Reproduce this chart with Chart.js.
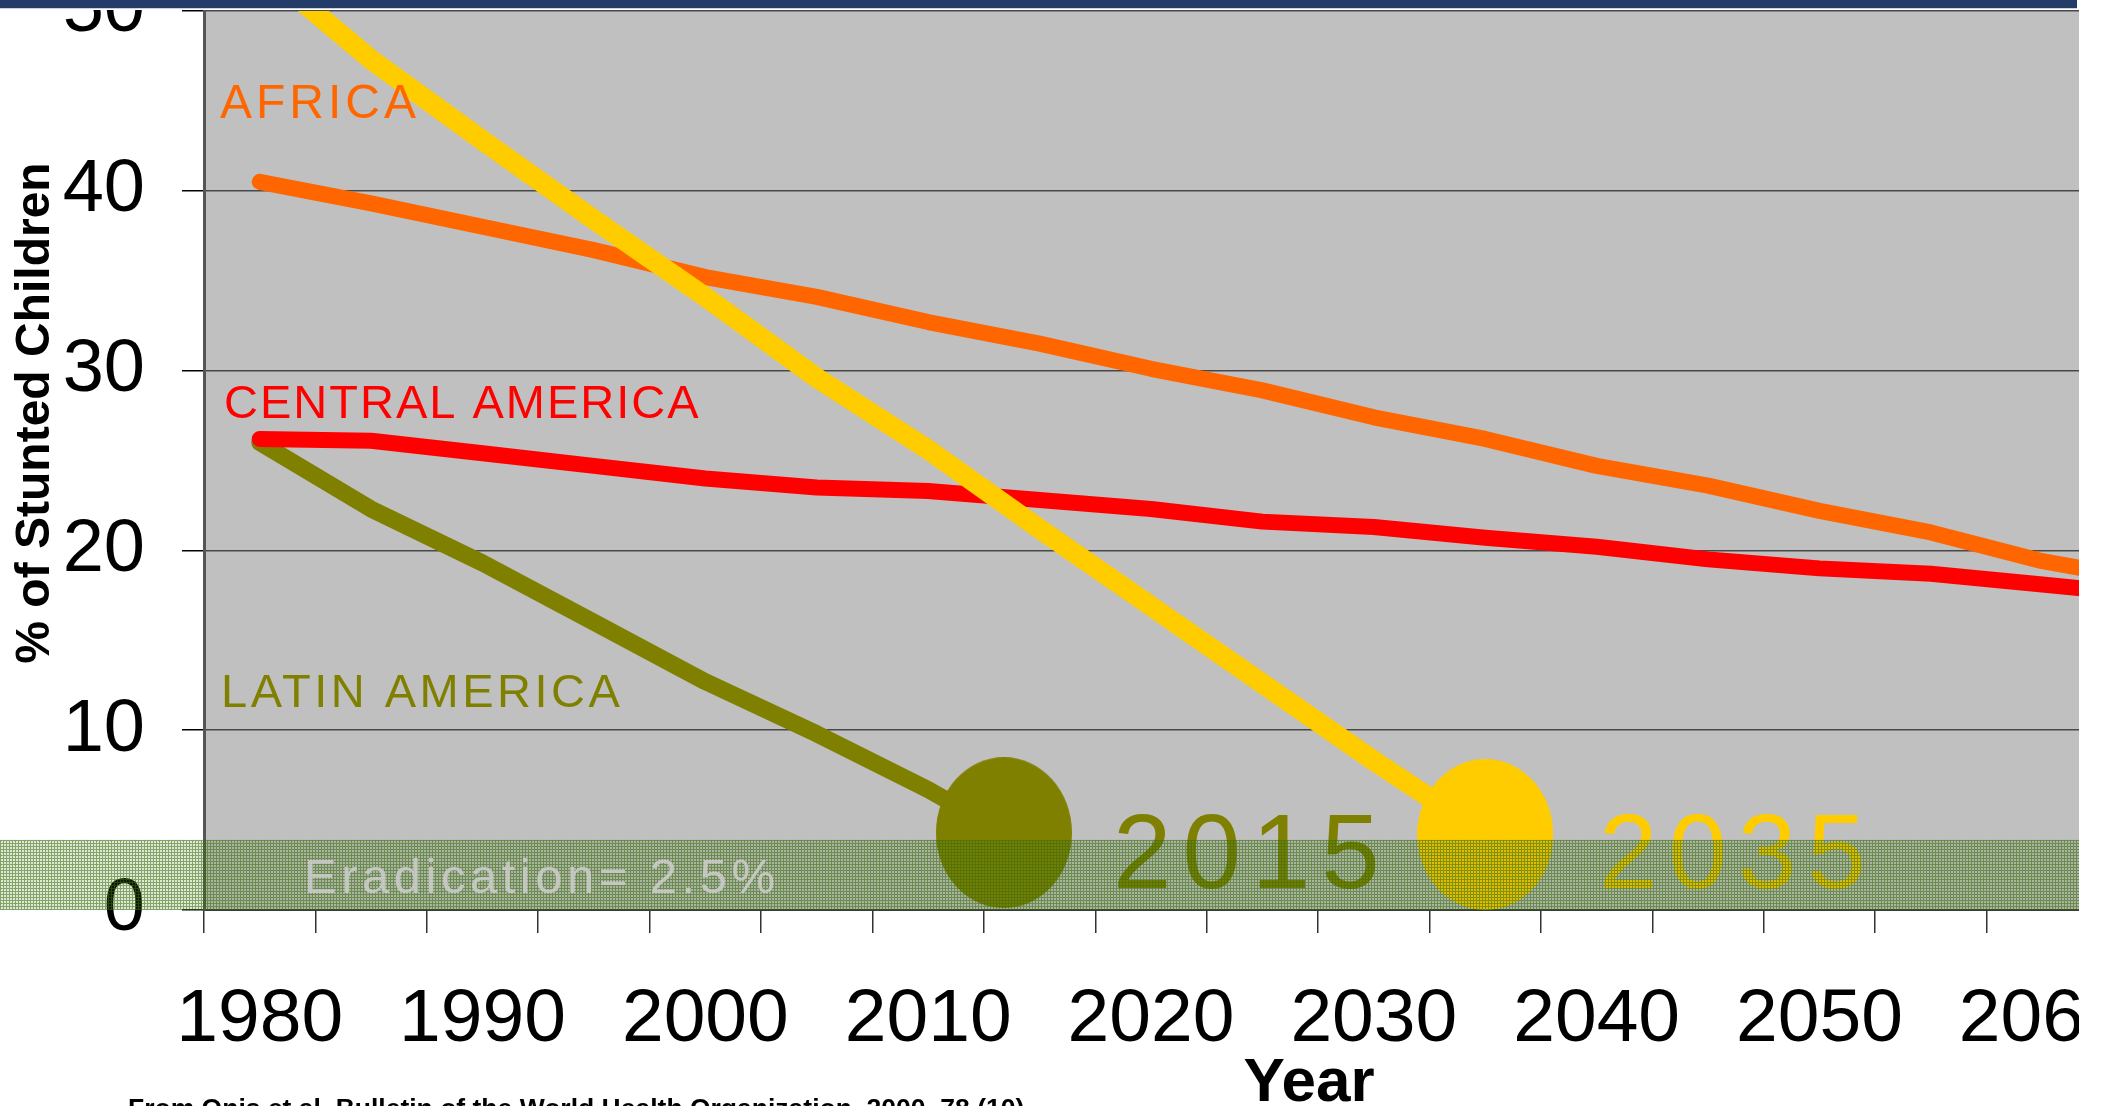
<!DOCTYPE html>
<html>
<head>
<meta charset="utf-8">
<title>Stunted children trends</title>
<script src="https://cdn.jsdelivr.net/npm/chart.js@4.4.1/dist/chart.umd.min.js"></script>
<style>
    html, body { margin: 0; padding: 0; background: #fff; overflow: hidden; }
    #wrap { position: relative; width: 2140px; height: 1106px; }
</style>
</head>
<body>
<div id="wrap"><canvas id="stuntChart" width="2140" height="1106"></canvas></div>
<script>
// x categories (5-year steps) and y ticks
const tickYears = [1980, 1985, 1990, 1995, 2000, 2005, 2010, 2015, 2020, 2025, 2030, 2035, 2040, 2045, 2050, 2055, 2060];
const yTicks = [0, 10, 20, 30, 40, 50];

// data years, the last one runs past the slide edge
const years = [1980, 1985, 1990, 1995, 2000, 2005, 2010, 2015, 2020, 2025, 2030, 2035, 2040, 2045, 2050, 2055, 2060, 2065];

// % of stunted children
const africa = [40.5, 39.3, 38.0, 36.7, 35.2, 34.1, 32.7, 31.5, 30.1, 28.9, 27.4, 26.2, 24.7, 23.6, 22.2, 21.0, 19.4, 18.3];
const centralAmerica = [26.2, 26.1, 25.4, 24.7, 24.0, 23.5, 23.3, 22.8, 22.3, 21.6, 21.3, 20.7, 20.2, 19.5, 19.0, 18.7, 18.1, 17.5];
const latinAmerica = [26.0, 22.3, 19.3, 16.0, 12.7, 9.8, 6.7];
const yellowTrend = [52.5, 47.3, 42.8, 38.4, 34.1, 29.6, 25.6, 21.2, 16.9, 12.6, 8.3];

// milestone markers (year reached, level)
const latinGoal = { year: 2013.4, value: 4.3, label: "2015" };
const yellowGoal = { year: 2035, value: 4.2, label: "2035" };
const eradicationTop = 3.9;

const FONT = "'Liberation Sans', Arial, sans-serif";
// plot box of the slide, the right part is cut off by the slide edge
const plotBox = { left: 204, top: 11, right: 2098, bottom: 910, cropX: 2079 };

function ellipseMarker(color) {
    const c = document.createElement("canvas");
    c.width = 136;
    c.height = 151;
    const g = c.getContext("2d");
    g.fillStyle = color;
    g.beginPath();
    g.ellipse(68, 75.5, 68, 75.5, 0, 0, Math.PI * 2);
    g.fill();
    return c;
}

function hatchPattern(ctx) {
    const c = document.createElement("canvas");
    c.width = 3;
    c.height = 3;
    const g = c.getContext("2d");
    g.fillStyle = "rgba(70,120,20,0.17)";
    g.fillRect(0, 0, 3, 3);
    g.fillStyle = "rgba(55,105,15,0.55)";
    g.fillRect(0, 0, 3, 1);
    g.fillRect(0, 1, 1, 2);
    return ctx.createPattern(c, "repeat");
}

function seriesPoints(values) {
    return values.map((v, i) => ({ x: years[i], y: v }));
}

function withGoal(values, goal) {
    return seriesPoints(values).concat([{ x: goal.year, y: goal.value }]);
}

function markerOptions(count, color) {
    const marker = ellipseMarker(color);
    return {
        pointRadius: ctx => ctx.dataIndex === count ? 70 : 0,
        pointStyle: ctx => ctx.dataIndex === count ? marker : "circle"
    };
}

function txt(ctx, text, x, y, font, color, spacing) {
    ctx.font = font;
    ctx.fillStyle = color;
    ctx.letterSpacing = (spacing || 0) + "px";
    ctx.fillText(text, x, y);
    ctx.letterSpacing = "0px";
}

// keep the plot exactly where it sits on the slide
const pinArea = {
    id: "pinArea",
    afterLayout(chart) {
        const b = plotBox;
        Object.assign(chart.chartArea, {
            left: b.left, top: b.top, right: b.right, bottom: b.bottom,
            width: b.right - b.left, height: b.bottom - b.top
        });
        Object.values(chart.scales).forEach(s => {
            if (s.isHorizontal()) {
                s.left = b.left;
                s.right = b.right;
                s.width = b.right - b.left;
                s.top = b.bottom;
                s.bottom = chart.height;
                s.height = chart.height - b.bottom;
            } else {
                s.left = 0;
                s.right = b.left;
                s.width = b.left;
                s.top = b.top;
                s.bottom = b.bottom;
                s.height = b.bottom - b.top;
            }
            s.configure();
        });
    }
};

const slideDecor = {
    id: "slideDecor",
    beforeDraw(chart) {
        const { ctx, chartArea: a } = chart;
        ctx.save();
        ctx.fillStyle = "#c0c0c0";
        ctx.fillRect(a.left, a.top, a.right - a.left, a.bottom - a.top);
        ctx.restore();
    },
    afterDatasetsDraw(chart) {
        const { ctx } = chart;
        const yScale = chart.scales.y;
        ctx.save();
        ctx.textAlign = "left";
        ctx.textBaseline = "alphabetic";
        txt(ctx, "AFRICA", 220, 118, "48px " + FONT, "#ff6600", 4);
        txt(ctx, "CENTRAL AMERICA", 224, 418, "47px " + FONT, "#ff0000", 2);
        txt(ctx, "LATIN AMERICA", 221, 707, "47px " + FONT, "#808000", 3.5);
        txt(ctx, latinGoal.label, 1113, 888, "105px " + FONT, "#808000", 11);
        txt(ctx, yellowGoal.label, 1599, 888, "105px " + FONT, "#ffcc00", 11);

        // eradication band across the whole slide
        const top = yScale.getPixelForValue(eradicationTop);
        const bottom = yScale.getPixelForValue(0);
        ctx.fillStyle = hatchPattern(ctx);
        ctx.fillRect(0, top, plotBox.cropX, bottom - top);

        txt(ctx, "Eradication= 2.5%", 304, 893, "49px " + FONT, "rgba(206,206,206,0.85)", 4.5);
        ctx.restore();
    },
    afterDraw(chart) {
        const { ctx } = chart;
        ctx.save();
        // slide crop and header bar
        ctx.fillStyle = "#ffffff";
        ctx.fillRect(plotBox.cropX, 0, chart.width - plotBox.cropX, chart.height);
        ctx.fillRect(0, 0, plotBox.cropX, 10);
        ctx.fillStyle = "#243c68";
        ctx.fillRect(0, 0, plotBox.cropX - 2, 8);
        ctx.fillStyle = "#c9d1de";
        ctx.fillRect(0, 8, plotBox.cropX - 2, 1);

        ctx.textAlign = "center";
        txt(ctx, "Year", 1309, 1101, "bold 62px " + FONT, "#000");

        ctx.save();
        ctx.translate(36, 413);
        ctx.rotate(-Math.PI / 2);
        ctx.textBaseline = "middle";
        txt(ctx, "% of Stunted Children", 0, 0, "bold 48px " + FONT, "#000");
        ctx.restore();

        ctx.textAlign = "left";
        ctx.textBaseline = "alphabetic";
        txt(ctx, "From Onis et al, Bulletin of the World Health Organization, 2000, 78 (10)", 128, 1117, "bold 26.5px " + FONT, "#000");
        ctx.restore();
    }
};

document.addEventListener("DOMContentLoaded", function () {
    const canvas = document.getElementById("stuntChart");

    const stuntChart = new Chart(canvas.getContext("2d"), {
        type: "line",
        data: {
            labels: tickYears.map(String),
            datasets: [
                Object.assign({
                    label: "",
                    data: withGoal(yellowTrend, yellowGoal),
                    borderColor: "#ffcc00",
                    backgroundColor: "#ffcc00",
                    borderWidth: 20
                }, markerOptions(yellowTrend.length, "#ffcc00")),
                {
                    label: "CENTRAL AMERICA",
                    data: seriesPoints(centralAmerica),
                    borderColor: "#ff0000",
                    borderWidth: 16,
                    pointRadius: 0
                },
                {
                    label: "AFRICA",
                    data: seriesPoints(africa),
                    borderColor: "#ff6600",
                    borderWidth: 16,
                    pointRadius: 0
                },
                Object.assign({
                    label: "LATIN AMERICA",
                    data: withGoal(latinAmerica, latinGoal),
                    borderColor: "#808000",
                    backgroundColor: "#808000",
                    borderWidth: 17
                }, markerOptions(latinAmerica.length, "#808000"))
            ].map(ds => Object.assign({
                xAxisID: "xYears",
                tension: 0,
                fill: false,
                borderCapStyle: "round",
                borderJoinStyle: "round",
                pointBorderWidth: 0
            }, ds))
        },
        options: {
            responsive: false,
            animation: false,
            events: [],
            plugins: {
                legend: { display: false },
                tooltip: { enabled: false }
            },
            scales: {
                x: {
                    type: "category",
                    position: "bottom",
                    offset: true,
                    grid: {
                        offset: true,
                        drawOnChartArea: false,
                        drawTicks: true,
                        tickLength: 23,
                        color: "#333333",
                        lineWidth: 1.5
                    },
                    border: { display: true, color: "#3a3a3a", width: 2 },
                    ticks: {
                        autoSkip: false,
                        maxRotation: 0,
                        padding: 42,
                        color: "#000",
                        font: { family: FONT, size: 75 },
                        callback: function (value, index) {
                            return index % 2 === 0 ? this.getLabelForValue(value) : "";
                        }
                    }
                },
                xYears: {
                    type: "linear",
                    axis: "x",
                    position: "bottom",
                    display: false,
                    min: tickYears[0] - 2.5,
                    max: tickYears[tickYears.length - 1] + 2.5
                },
                y: {
                    type: "linear",
                    min: yTicks[0],
                    max: yTicks[yTicks.length - 1],
                    afterBuildTicks: function (s) {
                        s.ticks = yTicks.map(v => ({ value: v }));
                    },
                    grid: {
                        color: "#484848",
                        lineWidth: 1.5,
                        tickLength: 22,
                        tickColor: "#000"
                    },
                    border: { display: true, color: "#555555", width: 3 },
                    ticks: {
                        padding: 37,
                        color: "#000",
                        font: { family: FONT, size: 74 }
                    }
                }
            }
        },
        plugins: [pinArea, slideDecor]
    });
});
</script>
</body>
</html>
